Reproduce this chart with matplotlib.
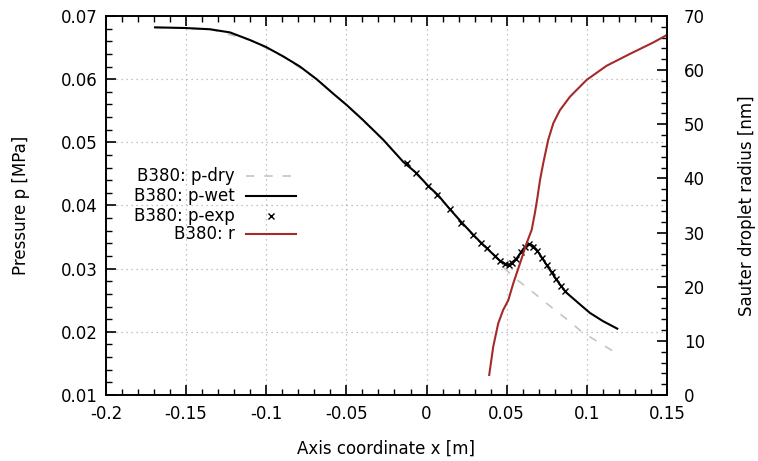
import matplotlib
matplotlib.use('Agg')
import matplotlib.pyplot as plt
from matplotlib.ticker import MultipleLocator, FormatStrFormatter

# B380 nozzle, axis coordinate [m] vs pressure [MPa]
x_wet = [-0.1694, -0.1507, -0.1351, -0.1226, -0.1102, -0.1002, -0.0894,
         -0.0790, -0.0686, -0.0582, -0.0498, -0.0395, -0.0270, -0.0145,
         -0.0066, 0.001, 0.007, 0.0146, 0.022, 0.029, 0.034, 0.0427, 0.046,
         0.0489, 0.0505, 0.052, 0.0562, 0.0603, 0.0625, 0.0641, 0.066,
         0.0687, 0.0749, 0.0812, 0.0868, 0.095, 0.1019, 0.110, 0.119]
p_wet = [0.0682, 0.0681, 0.0679, 0.0674, 0.0662, 0.0651, 0.0636,
         0.0620, 0.0600, 0.0577, 0.0559, 0.0535, 0.0504, 0.0469,
         0.0452, 0.0431, 0.0417, 0.0394, 0.0373, 0.0354, 0.0341, 0.0320,
         0.0312, 0.0308, 0.0306, 0.0307, 0.0316, 0.0331, 0.0337, 0.0339,
         0.0337, 0.0330, 0.0306, 0.0282, 0.0263, 0.0245, 0.0230, 0.0217,
         0.0205]

x_dry = [-0.1694, -0.1351, -0.1102, -0.0894, -0.0686, -0.0498, -0.0270,
         -0.0145, 0.001, 0.0146, 0.029, 0.0427, 0.048, 0.0551, 0.0634,
         0.0759, 0.0895, 0.0968, 0.1051, 0.1186]
p_dry = [0.0682, 0.0679, 0.0662, 0.0636, 0.0600, 0.0559, 0.0504,
         0.0469, 0.0431, 0.0394, 0.0354, 0.0320, 0.0302, 0.0285, 0.0269,
         0.0243, 0.0216, 0.0200, 0.0187, 0.0166]

x_exp = [-0.0125, -0.0068, 0.0010, 0.0068, 0.0146, 0.0218, 0.0290, 0.0340,
         0.0375, 0.0425, 0.0460, 0.0490, 0.0515, 0.0535, 0.0560, 0.0590,
         0.0615, 0.0640, 0.0665, 0.0690, 0.0720, 0.0750, 0.0780, 0.0810,
         0.0840, 0.0865]
p_exp = [0.0467, 0.0452, 0.0431, 0.0417, 0.0394, 0.0373, 0.0354, 0.0341,
         0.0332, 0.0320, 0.0312, 0.0307, 0.0306, 0.0309, 0.0316, 0.0326,
         0.0335, 0.0339, 0.0335, 0.0328, 0.0317, 0.0306, 0.0294, 0.0283,
         0.0273, 0.0264]

# Sauter droplet radius [nm]
x_r = [0.0391, 0.0416, 0.0447, 0.0478, 0.0510, 0.0541, 0.0583, 0.0624,
       0.0656, 0.0676, 0.0691, 0.0708, 0.0728, 0.0759, 0.0791, 0.0832,
       0.0895, 0.0999, 0.1123, 0.1269, 0.1414, 0.150]
r_val = [3.7, 8.9, 13.2, 15.7, 17.5, 20.6, 24.3, 28.0, 30.5, 33.6, 36.3,
         39.7, 42.8, 47.1, 50.2, 52.6, 55.1, 58.2, 60.8, 63.0, 65.1, 66.5]

labels = ['B380: p-dry', 'B380: p-wet', 'B380: p-exp', 'B380: r']


def main():
    plt.rcParams['font.family'] = 'DejaVu Sans'
    plt.rcParams['font.size'] = 12
    plt.rcParams['axes.unicode_minus'] = False

    fig = plt.figure(figsize=(7.58, 4.61), dpi=100)
    ax = fig.add_axes([0.1398, 0.1432, 0.7401, 0.8221])
    ax2 = ax.twinx()

    dry_style = dict(color='#c4c4c4', lw=1.2, dashes=(5, 6))
    wet_style = dict(color='black', lw=1.5)
    exp_style = dict(color='black', ls='none', marker='x', ms=5, mew=1)
    r_style = dict(color='#a52a2a', lw=1.5)

    ax.plot(x_dry, p_dry, **dry_style)
    ax.plot(x_wet, p_wet, **wet_style)
    ax.plot(x_exp, p_exp, **exp_style)
    ax2.plot(x_r, r_val, **r_style)

    ax.set_xlim(-0.2, 0.15)
    ax.set_ylim(0.01, 0.07)
    ax2.set_ylim(0, 70)

    ax.xaxis.set_major_locator(MultipleLocator(0.05))
    ax.xaxis.set_minor_locator(MultipleLocator(0.01))
    ax.yaxis.set_major_locator(MultipleLocator(0.01))
    ax.yaxis.set_minor_locator(MultipleLocator(0.002))
    ax2.yaxis.set_major_locator(MultipleLocator(10))
    ax2.yaxis.set_minor_locator(MultipleLocator(2))
    ax.xaxis.set_major_formatter(FormatStrFormatter('%g'))
    ax.yaxis.set_major_formatter(FormatStrFormatter('%g'))

    ax.tick_params(which='both', direction='in', top=True, right=False)
    ax.tick_params(which='major', length=7, width=1.2)
    ax.tick_params(which='minor', length=4, width=1)
    ax.tick_params(axis='y', pad=6)
    ax.tick_params(axis='x', pad=7)
    ax2.tick_params(which='both', direction='in')
    ax2.tick_params(which='major', length=7, width=1.2, pad=12)
    ax2.tick_params(which='minor', length=4, width=1)

    for a in (ax, ax2):
        for s in a.spines.values():
            s.set_linewidth(1.2)

    ax.grid(True, which='major', color='#b0b0b0', ls=(0, (1, 3)), lw=0.9)

    ax.set_xlabel('Axis coordinate x [m]', labelpad=12)
    ax.set_ylabel('Pressure p [MPa]', labelpad=22)
    ax2.set_ylabel('Sauter droplet radius [nm]', labelpad=24)

    # gnuplot-style key: right-aligned text, sample to its right
    rows = [0.578, 0.525, 0.472, 0.424]
    styles = [dry_style, wet_style, exp_style, r_style]
    for label, y, st in zip(labels, rows, styles):
        ax.text(0.230, y, label, transform=ax.transAxes, ha='right',
                va='center')
        if st.get('marker'):
            ax.plot([0.295], [y], transform=ax.transAxes, **st)
        else:
            ax.plot([0.250, 0.339], [y, y], transform=ax.transAxes, **st)

    plt.savefig('out.png', dpi=100)


if __name__ == '__main__':
    main()
